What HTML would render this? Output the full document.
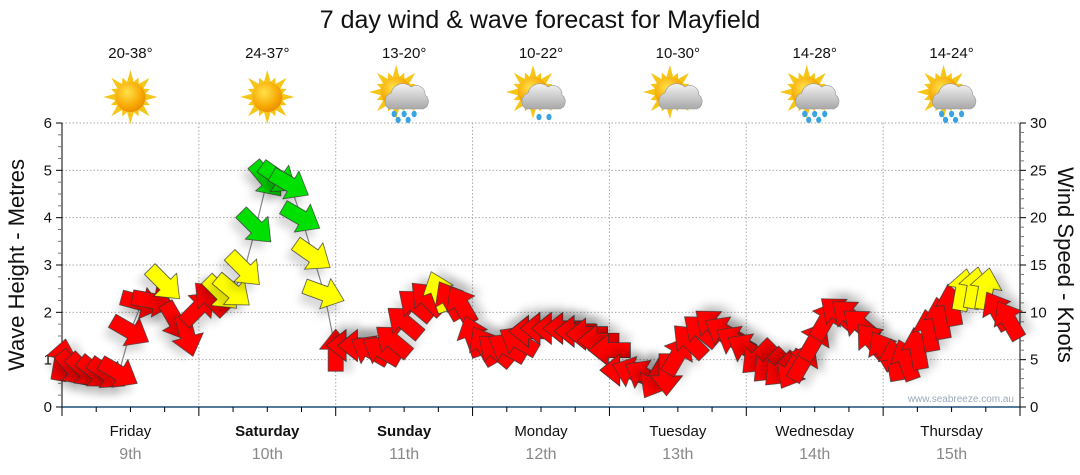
<!DOCTYPE html>
<html><head><meta charset="utf-8">
<style>
html,body{margin:0;padding:0;background:#fff;}
svg{display:block;font-family:"Liberation Sans","DejaVu Sans",sans-serif;}
</style></head>
<body>
<svg id="chart" width="1080" height="475" viewBox="0 0 1080 475" xmlns="http://www.w3.org/2000/svg">
<defs>
<filter id="sh" x="-50%" y="-50%" width="200%" height="250%">
<feDropShadow dx="0" dy="9" stdDeviation="4" flood-color="#000" flood-opacity="0.15"/>
</filter>
<radialGradient id="sunG" cx="0.4" cy="0.35" r="0.7">
<stop offset="0" stop-color="#ffe14a"/><stop offset="0.7" stop-color="#f7a600"/><stop offset="1" stop-color="#e88a00"/>
</radialGradient>
<linearGradient id="cloudG" x1="0" y1="0" x2="0" y2="1">
<stop offset="0" stop-color="#f2f2f2"/><stop offset="1" stop-color="#a8a8a8"/>
</linearGradient>
</defs>
<rect width="1080" height="475" fill="#fff"/>
<text x="540" y="28" text-anchor="middle" font-size="25" fill="#111">7 day wind &amp; wave forecast for Mayfield</text>
<g id="wx"></g>
<g id="grid"></g>
<g id="axes"></g>
<text transform="translate(24,265) rotate(-90)" text-anchor="middle" font-size="22" fill="#111">Wave Height - Metres</text>
<text transform="translate(1058,265) rotate(90)" text-anchor="middle" font-size="22" fill="#111">Wind Speed - Knots</text>
<text x="1014" y="402" text-anchor="end" font-size="10" fill="#9aaabb">www.seabreeze.com.au</text>
<g id="series"></g>
</svg>
<script>
const days = ["Friday","Saturday","Sunday","Monday","Tuesday","Wednesday","Thursday"];
const dates = ["9th","10th","11th","12th","13th","14th","15th"];
const boldDays = [false,true,true,false,false,false,false];
const temps = ["20-38°","24-37°","13-20°","10-22°","10-30°","14-28°","14-24°"];
const icons = ["sun","sun","rain","shower","cloud","rain","rain"];
const leftTicks = [0,1,2,3,4,5,6];
const rightTicks = [0,5,10,15,20,25,30];
// hour offset from Friday 00:00
const hours = [0,2,4,6,8,10,12,14,16,18,20,22,
24,26,28,30,32,34,36,38,40,42,44,46,
48,50,52,54,56,58,60,62,64,66,68,70,
72,74,76,78,80,82,84,86,88,90,92,94,
96,98,100,102,104,106,108,110,112,114,116,118,
120,122,124,126,128,130,132,134,136,138,140,142,
144,146,148,150,152,154,156,158,160,162,164,166];
const windSpeed = [5.0,4.0,3.8,3.6,3.5,3.6,8.0,11.0,11.2,13.0,9.0,7.5,
10.5,11.5,12.0,12.2,14.5,19.0,24.0,24.2,23.5,20.0,16.0,12.0,
6.0,6.5,6.5,6.0,6.0,7.0,9.0,10.8,11.5,12.2,11.3,10.8,
7.5,6.5,6.0,6.3,7.0,8.0,8.3,8.3,8.3,8.0,7.7,7.0,
6.0,3.9,3.7,3.4,2.9,3.4,5.5,7.0,8.1,8.7,8.0,7.0,
6.2,5.2,4.3,3.9,3.9,4.8,7.0,9.2,10.0,9.7,8.7,7.0,
6.0,5.0,5.0,6.2,8.1,9.4,10.8,12.4,12.6,12.5,10.2,9.2];
const windDir = [-80,50,45,40,35,30,30,15,10,45,60,75,
-45,-135,45,40,45,45,50,35,30,30,35,20,
-90,180,180,-150,-150,-140,-140,-140,-135,-110,-120,-120,
-110,-120,-140,-150,-150,180,180,180,180,180,180,180,
180,180,-160,-150,120,90,-60,-135,-140,-140,-150,-150,
-150,135,135,135,120,-60,-60,-60,-140,-140,-140,-130,
-120,-100,-110,-100,-100,-100,-100,-80,-80,-80,-120,-120];

const svgNS = "http://www.w3.org/2000/svg";
const X0 = 62, X1 = 1020, Y0 = 407, Y1 = 123;
const dayW = (X1 - X0) / 7;
function xOfHour(h){ return X0 + h / 24 * dayW; }
function yOfKnots(k){ return Y0 - k / 30 * (Y0 - Y1); }
function yOfMetres(m){ return Y0 - m / 6 * (Y0 - Y1); }
function mk(tag, attrs, parent){
  const e = document.createElementNS(svgNS, tag);
  for (const k in attrs) e.setAttribute(k, attrs[k]);
  parent.appendChild(e);
  return e;
}
const grid = document.getElementById('grid');
const axes = document.getElementById('axes');
const series = document.getElementById('series');
const wx = document.getElementById('wx');

for (let i = 1; i < 7; i++) {
  const gl = mk('line', {x1: X0 + i*dayW, x2: X0 + i*dayW, y1: Y1, y2: Y0, stroke: '#aaa', 'stroke-dasharray': '1.5,2', 'stroke-width': 1}, grid);
  
  
}
leftTicks.forEach(v => {
  if (v === 0) return;
  const gl = mk('line', {x1: X0, x2: X1, y1: yOfMetres(v), y2: yOfMetres(v), stroke: '#aaa', 'stroke-dasharray': '1.5,2', 'stroke-width': 1}, grid);
  
  
});

mk('line', {x1: X0, x2: X0, y1: Y1, y2: Y0, stroke: '#000'}, axes);
mk('line', {x1: X1, x2: X1, y1: Y1, y2: Y0, stroke: '#000'}, axes);
const xl = mk('line', {x1: X0, x2: X1, y1: Y0, y2: Y0, stroke: '#1f4e79', 'stroke-width': 1.5}, axes);


for (let m = 0; m <= 6.001; m += 0.25) {
  const major = Math.abs(m - Math.round(m)) < 0.01;
  mk('line', {x1: X0 - (major ? 6 : 4), x2: X0, y1: yOfMetres(m), y2: yOfMetres(m), stroke: major ? '#000' : '#777'}, axes);
}
leftTicks.forEach(v => {
  const t = mk('text', {x: X0 - 10, y: yOfMetres(v) + 5, 'text-anchor': 'end', 'font-size': 15, fill: '#111'}, axes);
  t.textContent = v;
  
  
});
for (let k = 0; k <= 30; k++) {
  const major = k % 5 === 0;
  mk('line', {x1: X1, x2: X1 + (major ? 6 : 4), y1: yOfKnots(k), y2: yOfKnots(k), stroke: major ? '#000' : '#777'}, axes);
}
rightTicks.forEach(v => {
  const t = mk('text', {x: X1 + 10, y: yOfKnots(v) + 5, 'text-anchor': 'start', 'font-size': 15, fill: '#111'}, axes);
  t.textContent = v;
  
  
});
for (let h = 0; h <= 168; h += 6) {
  const major = h % 24 === 0;
  mk('line', {x1: xOfHour(h), x2: xOfHour(h), y1: Y0, y2: Y0 + (major ? 9 : 5), stroke: '#000'}, axes);
}
days.forEach((d, i) => {
  const cx = X0 + (i + 0.5) * dayW;
  const t = mk('text', {x: cx, y: 436, 'text-anchor': 'middle', 'font-size': 15, fill: '#111', 'font-weight': boldDays[i] ? 'bold' : 'normal'}, axes);
  t.textContent = d;
  
  
  const t2 = mk('text', {x: cx, y: 459, 'text-anchor': 'middle', 'font-size': 16, fill: '#888'}, axes);
  t2.textContent = dates[i];
  
  
  const t3 = mk('text', {x: cx, y: 58, 'text-anchor': 'middle', 'font-size': 15, fill: '#111'}, wx);
  t3.textContent = temps[i];
  
  
  drawIcon(cx, 97, icons[i]);
});

function drawIcon(cx, cy, type){
  const g = mk('g', {}, wx);
  
  
  const sx = type === 'sun' ? cx : cx - 8, sy = type === 'sun' ? cy : cy - 5;
  for (let a = 0; a < 360; a += 22.5) {
    const r = (a / 22.5) % 2 === 0 ? 27 : 21;
    const ra = a * Math.PI / 180, w = 0.16;
    const p = [[sx + 13*Math.cos(ra - w*2), sy + 13*Math.sin(ra - w*2)], [sx + r*Math.cos(ra), sy + r*Math.sin(ra)], [sx + 13*Math.cos(ra + w*2), sy + 13*Math.sin(ra + w*2)]];
    mk('polygon', {points: p.map(q => q.join(',')).join(' '), fill: '#f5c518'}, g);
  }
  mk('circle', {cx: sx, cy: sy, r: 15, fill: 'url(#sunG)'}, g);
  if (type !== 'sun') {
    mk('path', {d: `M${cx-15},${cy+12} a9,9 0 0 1 2,-16 a12,12 0 0 1 20,-6 a9,9 0 0 1 14,8 a8,8 0 0 1 -2,14 z`, fill: 'url(#cloudG)', stroke: '#999', 'stroke-width': 0.6}, g);
    if (type === 'rain' || type === 'shower') {
      const drops = type === 'rain' ? [[-10,17],[0,17],[10,17],[-6,23],[4,23]] : [[-2,20],[8,20]];
      drops.forEach(d => mk('ellipse', {cx: cx + d[0], cy: cy + d[1], rx: 2.6, ry: 3.2, fill: '#3aa3e3'}, g));
    }
  }
}

const pts = hours.map((h, i) => xOfHour(h).toFixed(1) + ',' + yOfKnots(windSpeed[i]).toFixed(1)).join(' ');
const ln = mk('polyline', {points: pts, fill: 'none', stroke: '#888', 'stroke-width': 1.2}, series);



function colourFor(k){ return k >= 18 ? '#00e000' : (k >= 11.8 ? '#ffff00' : '#ff0000'); }
const arrowShape = "-21,-7.5 1,-7.5 1,-16 21,0 1,16 1,7.5 -21,7.5";
hours.forEach((h, i) => {
  const x = xOfHour(h), y = yOfKnots(windSpeed[i]);
  const a = mk('polygon', {points: arrowShape, fill: colourFor(windSpeed[i]), stroke: '#333', 'stroke-width': 0.7, 'stroke-linejoin': 'miter', filter: 'url(#sh)', transform: `translate(${x.toFixed(1)},${y.toFixed(1)}) rotate(${windDir[i]})`}, series);
  
  
});
</script>
</body></html>
